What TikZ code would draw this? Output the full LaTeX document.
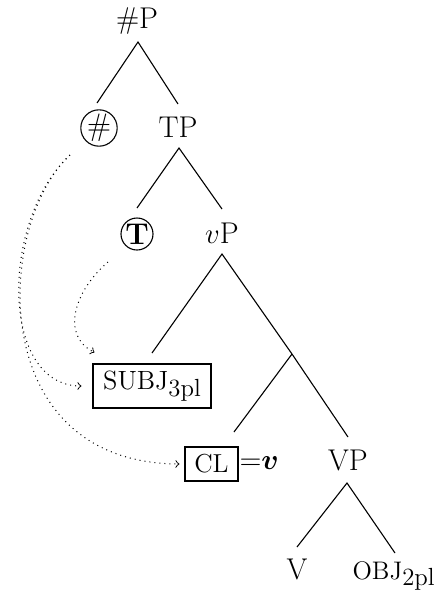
\documentclass[tikz,border=0pt]{standalone}
\usepackage{amsmath,bm}
\newcommand{\sbsc}[2]{#1\raisebox{-3.3pt}{\fontsize{12.4}{14}\selectfont #2}}
\begin{document}
\begin{tikzpicture}[x=0.5pt,y=-0.5pt, line width=0.55pt,
  lbl/.style={inner sep=0pt, anchor=base, font=\fontsize{15}{18}\selectfont},
  circ/.style={circle, draw, inner sep=0pt, minimum size=#1, font=\fontsize{15}{18}\selectfont},
  boxed/.style={draw, inner sep=0pt, font=\fontsize{15}{18}\selectfont},
  dotarr/.style={dotted, line width=0.5pt, ->}]
\useasboundingbox (0,0) rectangle (439,596);
% nodes
\node[lbl] (hp) at (137,28) {\#P};
\node[circ=17.5pt, font=\fontsize{15.5}{17}\selectfont] (hash) at (99,128) {\#};
\node[lbl] (tp) at (178,137) {TP};
\node[circ=16pt] (t) at (137,234) {\textbf{T}};
\node[lbl] (vp) at (222,243) {$v$P};
\node[boxed, minimum width=59pt, minimum height=22pt] (subj) at (152,386) {\sbsc{\fontsize{13.2}{15}\selectfont SUBJ}{3pl}};
\node[boxed, minimum width=26.5pt, minimum height=17pt] (cl) at (211.5,464) {\fontsize{13}{15}\selectfont CL};
\node[lbl, anchor=base west] (eqv) at (239,469) {${=}\boldsymbol{v}$};
\node[lbl] (VP) at (348,470) {VP};
\node[lbl] (V) at (297,579) {V};
\node[lbl, anchor=base west] (obj) at (352,579) {\sbsc{\fontsize{12.7}{14}\selectfont OBJ}{2pl}};
% branch points
\coordinate (hpB) at (138,42);
\coordinate (hashT) at (97,103);
\coordinate (tpT) at (178,104);
\coordinate (tpB) at (179,148);
\coordinate (tT) at (137,208);
\coordinate (vpT) at (222,209);
\coordinate (vpB) at (222,254);
\coordinate (subjT) at (152,353);
\coordinate (br) at (292,354);
\coordinate (VPT) at (348,437);
\coordinate (clT) at (234,432);
\coordinate (VPB) at (347,483);
\coordinate (VT) at (297,547);
\coordinate (objT) at (395,553);
% tree lines
\draw (hashT) -- (hpB) -- (tpT);
\draw (tT) -- (tpB) -- (vpT);
\draw (subjT) -- (vpB) -- (br) -- (VPT);
\draw (br) -- (clT);
\draw (VT) -- (VPB) -- (objT);
% movement arrows
\coordinate (hashS) at (70,155);
\coordinate (tS) at (108,262);
\draw[dotarr] (hashS) .. controls (0,220) and (0,386) .. ([xshift=-5.5pt]subj.west);
\draw[dotarr] (hashS) .. controls (-5,225) and (-15,463) .. ([xshift=-2.5pt]cl.west);
\draw[dotarr] (tS) .. controls (75,290) and (60,335) .. ([shift={(1pt,5.5pt)}]subj.north west);
\end{tikzpicture}
\end{document}
